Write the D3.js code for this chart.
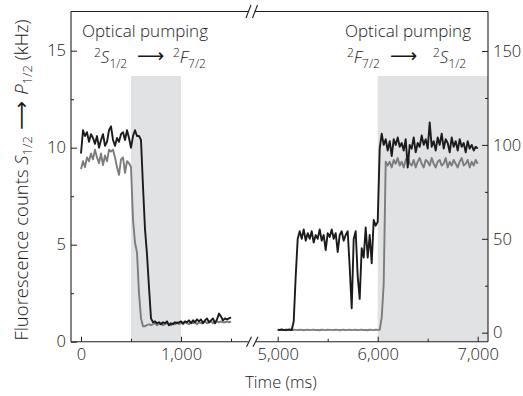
<!DOCTYPE html>
<html><head><meta charset="utf-8">
<script src="https://cdn.jsdelivr.net/npm/d3@7/dist/d3.min.js"></script>
<style>
body{margin:0;background:#fff;}
svg{display:block;font-family:"Open Sans","Noto Sans",sans-serif;font-weight:300;}
.tick text{font-size:16.5px;fill:#1a1718;font-family:"Open Sans","Noto Sans",sans-serif;font-weight:300;}
.tick line{stroke:#231f20;stroke-width:1;}
</style>
</head><body>
<svg id="c" width="523" height="396"></svg>
<script>
// ---- data ----
const leftStart = 0, leftStep = 20;
const leftBlack = [9.7,10.9,10.6,10.8,10.3,10.7,10.5,10.2,10.6,10.0,
  10.4,10.7,10.1,10.3,10.9,11.1,10.4,10.1,10.5,10.3,
  10.7,10.8,10.4,10.9,10.5,10.0,10.6,10.9,10.6,10.6,
  10.4,8.0,5.8,4.5,2.8,1.2,1.0,1.05,0.95,1.0,
  0.9,1.0,0.95,1.05,0.85,0.95,0.9,1.0,0.95,1.0,
  1.05,0.95,1.05,1.0,1.1,0.95,1.1,1.0,1.15,1.05,
  1.15,0.95,1.1,1.2,1.0,1.1,1.2,0.95,1.15,1.45,
  1.3,1.1,1.2,1.15,1.2,1.25];
const leftGray = [8.9,9.3,9.0,9.5,9.3,9.7,9.4,9.9,9.5,9.2,
  9.7,9.1,9.6,9.3,9.9,9.8,9.9,9.5,9.0,8.6,
  9.4,9.5,8.7,9.3,9.2,9.0,6.3,5.1,4.6,2.5,
  1.2,0.8,0.8,0.85,0.9,0.85,0.9,0.95,0.85,0.9,
  0.95,0.85,0.9,0.95,0.9,0.85,0.95,0.9,1.0,0.9,
  0.95,0.9,1.0,0.95,0.9,1.0,0.95,1.0,0.9,1.0,
  0.95,1.0,1.05,0.95,1.0,1.05,0.95,1.0,1.05,1.0,
  1.05,1.0,1.0,1.05,1.0,1.05];
const rightStart = 5000, rightStep = 20;
const rightBlack = [1.6,1.5,1.7,1.4,1.6,1.5,1.7,1.4,6,30,
  50,54,50,55,49,53,50,54,48,52,
  50,55,49,52,44,53,51,55,50,53,
  43,52,54,49,52,54,35,13,50,54,
  30,18,45,40,56,40,52,37,60,57,
  59,
  98,106,100,103,97,102,94,103,100,104,
  99,101,97,103,88,100,98,104,96,101,
  99,105,100,103,98,112,99,102,97,104,
  100,106,98,103,101,96,104,99,102,97,
  103,99,101,96,102,98,100,97,99,98];
const rightGray = [1.5,1.4,1.6,1.5,1.3,1.6,1.5,1.4,1.6,1.5,
  1.4,1.6,1.5,1.3,1.5,1.6,1.4,1.5,1.6,1.4,
  1.5,1.3,1.6,1.5,1.4,1.6,1.5,1.5,1.4,1.6,
  1.5,1.3,1.5,1.6,1.4,1.5,1.6,1.4,1.5,1.6,
  1.4,1.5,1.6,1.4,1.5,1.3,1.6,1.5,1.4,1.6,
  1.5,1.5,
  8,26,91,
  89,91,88,92,90,93,89,91,88,92,
  94,90,89,92,88,91,93,90,88,92,
  91,89,93,90,88,91,92,89,90,93,
  88,91,89,92,90,88,91,93,89,90,
  92,88,91,89,92,90];
const shadeLeft = [500, 1000];
const shadeRight = [6000, 7100];
const leftYTicks = [0,5,10,15], leftYMinor = [2.5,7.5,12.5];
const rightYTicks = [0,50,100,150], rightYMinor = [25,75,125];
const xTicksL = [0,1000], xMinorL = [500,1500];
const xTicksR = [5000,6000,7000], xMinorR = [5500,6500];

// ---- scales ----
const svg = d3.select("#c");
const ink = "#1a1718";
const X0 = 71, X1 = 488, Y0 = 11.5, Y1 = 341.7;
const xL = d3.scaleLinear().domain([0,1000]).range([81,181]);
const xR = d3.scaleLinear().domain([5000,7000]).range([277.7,477.7]);
const yL = d3.scaleLinear().domain([0,15]).range([341.7,50.7]);
const yR = d3.scaleLinear().domain([0,150]).range([332.7,51]);
const shadeTop = 76;

// shading
svg.append("rect").attr("x", xL(shadeLeft[0])).attr("y", shadeTop)
  .attr("width", xL(shadeLeft[1]) - xL(shadeLeft[0])).attr("height", Y1 - shadeTop).attr("fill", "#e1e2e4");
svg.append("rect").attr("x", xR(shadeRight[0])).attr("y", shadeTop)
  .attr("width", X1 - xR(shadeRight[0])).attr("height", Y1 - shadeTop).attr("fill", "#e1e2e4");

// lines
function drawLine(vals, start, step, xs, ys, color) {
  const line = d3.line().x((d,i) => xs(start + i*step)).y(d => ys(d));
  svg.append("path").datum(vals).attr("d", line).attr("fill","none")
    .attr("stroke", color).attr("stroke-width", 1.9).attr("stroke-linejoin","round");
}
drawLine(leftGray, leftStart, leftStep, xL, yL, "#7c7c7c");
drawLine(leftBlack, leftStart, leftStep, xL, yL, "#1c1a1b");
drawLine(rightGray, rightStart, rightStep, xR, yR, "#7c7c7c");
drawLine(rightBlack, rightStart, rightStep, xR, yR, "#1c1a1b");

// frame
const frame = svg.append("g").attr("stroke", "#231f20").attr("stroke-width", 1.1).attr("fill","none");
frame.append("line").attr("x1",X0).attr("x2",X0).attr("y1",Y0).attr("y2",Y1);
frame.append("line").attr("x1",X1).attr("x2",X1).attr("y1",Y0).attr("y2",Y1);
frame.append("line").attr("x1",X0).attr("x2",248).attr("y1",Y0).attr("y2",Y0);
frame.append("line").attr("x1",255).attr("x2",X1).attr("y1",Y0).attr("y2",Y0);
frame.append("line").attr("x1",X0).attr("x2",248.5).attr("y1",Y1).attr("y2",Y1);
frame.append("line").attr("x1",256).attr("x2",X1).attr("y1",Y1).attr("y2",Y1);
// break marks
[[246,251],[252.5,257.5]].forEach(([a,b]) => {
  frame.append("line").attr("x1",a).attr("y1",Y0+6.5).attr("x2",b).attr("y2",Y0-6.5);
  frame.append("line").attr("x1",a+0.5).attr("y1",Y1+5).attr("x2",b+0.5).attr("y2",Y1-5);
});

// axes
function styleAxis(g){ g.select(".domain").remove(); }
svg.append("g").attr("transform",`translate(${X0},0)`)
  .call(d3.axisLeft(yL).tickValues(leftYTicks).tickSizeInner(-6).tickSizeOuter(0).tickPadding(5)).call(styleAxis);
svg.append("g").attr("transform",`translate(${X0},0)`)
  .call(d3.axisLeft(yL).tickValues(leftYMinor).tickSizeInner(-3).tickSizeOuter(0).tickFormat("")).call(styleAxis);
svg.append("g").attr("transform",`translate(${X1},0)`)
  .call(d3.axisRight(yR).tickValues(rightYTicks).tickSizeInner(-6).tickSizeOuter(0).tickPadding(5)).call(styleAxis);
svg.append("g").attr("transform",`translate(${X1},0)`)
  .call(d3.axisRight(yR).tickValues(rightYMinor).tickSizeInner(-3).tickSizeOuter(0).tickFormat("")).call(styleAxis);
const fmt = d3.format(",");
svg.append("g").attr("transform",`translate(0,${Y1})`)
  .call(d3.axisBottom(xL).tickValues(xTicksL).tickFormat(fmt).tickSizeInner(-5).tickSizeOuter(0).tickPadding(7)).call(styleAxis);
svg.append("g").attr("transform",`translate(0,${Y1})`)
  .call(d3.axisBottom(xL).tickValues(xMinorL).tickFormat("").tickSizeInner(-3).tickSizeOuter(0)).call(styleAxis);
svg.append("g").attr("transform",`translate(0,${Y1})`)
  .call(d3.axisBottom(xR).tickValues(xTicksR).tickFormat(fmt).tickSizeInner(-5).tickSizeOuter(0).tickPadding(7)).call(styleAxis);
svg.append("g").attr("transform",`translate(0,${Y1})`)
  .call(d3.axisBottom(xR).tickValues(xMinorR).tickFormat("").tickSizeInner(-3).tickSizeOuter(0)).call(styleAxis);

// axis titles
svg.append("text").attr("x", 281).attr("y", 388).attr("text-anchor","middle")
  .attr("font-size", 16.5).attr("fill", ink).text("Time (ms)");
const yt = svg.append("text").attr("transform","translate(28,180) rotate(-90)")
  .attr("text-anchor","middle").attr("font-size",18.5).attr("fill",ink);
yt.append("tspan").text("Fluorescence counts ");
yt.append("tspan").attr("font-style","italic").text("S");
yt.append("tspan").attr("font-size",13).attr("dy",4).text("1/2");
yt.append("tspan").attr("dy",-4).attr("font-family","DejaVu Sans").attr("font-weight",400).attr("font-size",20).text(" \u27F6 ");
yt.append("tspan").attr("font-style","italic").text("P");
yt.append("tspan").attr("font-size",13).attr("dy",4).text("1/2");
yt.append("tspan").attr("dy",-4).text(" (kHz)");

// annotations
function annot(x1, xs, first, second) {
  svg.append("text").attr("x", x1).attr("y", 36.5).attr("font-size",17).attr("fill",ink).text("Optical pumping");
  const y = 63;
  const part = (x, s) => {
    const t = svg.append("text").attr("x", x).attr("y", y).attr("font-size",17).attr("fill",ink);
    t.append("tspan").attr("font-size",12).attr("dy",-6).text("2");
    t.append("tspan").attr("font-style","italic").attr("dy",6).text(s[0]);
    t.append("tspan").attr("font-size",12).attr("dy",5).text(s[1]);
  };
  part(xs[0], first);
  svg.append("text").attr("x", xs[1]).attr("y", y - 1).attr("font-family","DejaVu Sans")
    .attr("font-size",19).attr("font-weight",400).attr("fill",ink).text("\u27F6");
  part(xs[2], second);
}
annot(82, [94, 137, 173], ["S","1/2"], ["F","7/2"]);
annot(345, [347, 390, 433], ["F","7/2"], ["S","1/2"]);
</script>
</body></html>
